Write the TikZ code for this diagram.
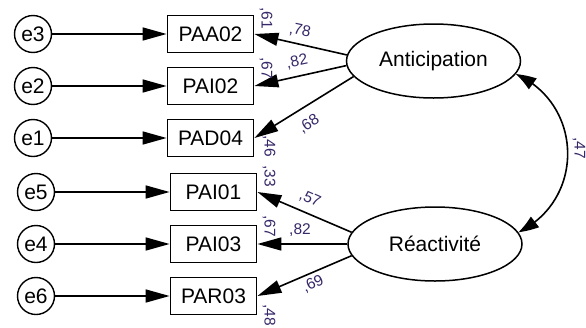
\documentclass[tikz,border=0pt]{standalone}
\usepackage{fontspec}
\setmainfont{Liberation Sans}
\usetikzlibrary{arrows.meta,shapes.geometric,bending}
\definecolor{numcol}{RGB}{55,40,105}
\begin{document}
\begin{tikzpicture}[x=1pt,y=-1pt,
  err/.style={circle,draw,line width=1.4pt,minimum size=37pt,inner sep=0pt,font=\fontsize{21}{24}\selectfont},
  obs/.style={rectangle,draw,line width=1.8pt,minimum width=86pt,minimum height=37pt,inner sep=0pt,font=\fontsize{21}{24}\selectfont},
  lat/.style={ellipse,draw,line width=1.5pt,minimum width=174pt,minimum height=74pt,inner sep=0pt,font=\fontsize{21}{24}\selectfont},
  arr/.style={line width=1.6pt,-{Triangle[length=24pt,width=13pt]}},
  darr/.style={line width=1.6pt,{Triangle[length=20pt,width=13pt,bend]}-{Triangle[length=20pt,width=13pt,bend]}},
  num/.style={font=\fontsize{15.5}{17}\selectfont,text=numcol,inner sep=0pt}
]
\useasboundingbox (0,0) rectangle (586,327);
% error terms
\node[err] (e3) at (33,34) {e3};
\node[err] (e2) at (33,86) {e2};
\node[err] (e1) at (33,138) {e1};
\node[err] (e5) at (36,192) {e5};
\node[err] (e4) at (36,244) {e4};
\node[err] (e6) at (36,296) {e6};
% observed
\node[obs] (PAA02) at (210.5,34) {PAA02};
\node[obs] (PAI02) at (210.5,86) {PAI02};
\node[obs] (PAD04) at (210.5,138) {PAD04};
\node[obs] (PAI01) at (213.5,192) {PAI01};
\node[obs] (PAI03) at (213.5,244) {PAI03};
\node[obs] (PAR03) at (213.5,296) {PAR03};
% latent
\node[lat] (Ant) at (433.5,61) {Anticipation};
\node[lat] (Rea) at (435,244) {Réactivité};
% error arrows
\foreach \e/\o in {e3/PAA02,e2/PAI02,e1/PAD04,e5/PAI01,e4/PAI03,e6/PAR03}
  \draw[arr] (\e) -- (\o.west);
% loadings
\draw[arr] (Ant.176) -- (PAA02.east);
\draw[arr] (Ant.183) -- (PAI02.east);
\draw[arr] (Ant.191) -- (PAD04.east);
\draw[arr] (Rea.172) -- (PAI01.east);
\draw[arr] (Rea.180) -- (PAI03.east);
\draw[arr] (Rea.188) -- (PAR03.east);
% covariance
\draw[darr] (Ant.-9) to[bend left=65,looseness=1.2] (Rea.8);
% loading labels
\node[num,rotate=-12] (l1) at (300,31) {,78};
\node[num,rotate=12] (l2) at (297,62) {,82};
\node[num,rotate=33] (l3) at (309,124) {,68};
\node[num,rotate=-24] (l4) at (310,199) {,57};
\node[num] (l5) at (300,230) {,82};
\node[num,rotate=25] (l6) at (313,284) {,69};
% R2 labels
\node[num,rotate=-90] (r1) at (266,18) {,61};
\node[num,rotate=-90] (r2) at (266,68) {,67};
\node[num,rotate=-90] (r3) at (269,146) {,46};
\node[num,rotate=-90] (r4) at (269,176) {,33};
\node[num,rotate=-90] (r5) at (269,226) {,67};
\node[num,rotate=-90] (r6) at (269,315) {,48};
\node[num,rotate=-90] (c1) at (579,148) {,47};
\end{tikzpicture}
\end{document}
